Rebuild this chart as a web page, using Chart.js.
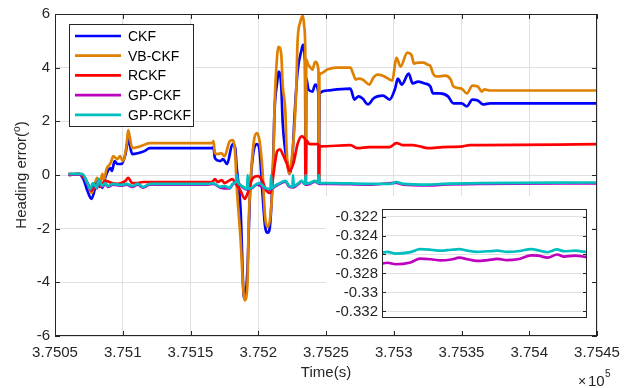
<!DOCTYPE html>
<html>
<head>
<meta charset="utf-8">
<script src="https://cdn.jsdelivr.net/npm/chart.js@4.4.1/dist/chart.umd.min.js"></script>
<style>
  html, body { margin: 0; padding: 0; background: #fff; }
  #wrap { position: relative; width: 642px; height: 388px; }
  #main { position: absolute; left: 0; top: 0; }
  #inset { position: absolute; left: 326px; top: 196px; }
</style>
</head>
<body>
<div id="wrap">
  <canvas id="main" width="642" height="388"></canvas>
  <canvas id="inset" width="266" height="135"></canvas>
</div>
<script>
// values (time in s, heading error in degrees)
const ckfTime = [375060, 375067, 375071, 375074, 375077, 375080, 375082, 375085, 375087, 375089, 375091, 375092, 375094, 375096, 375099, 375102, 375104, 375107, 375111, 375116, 375120, 375166, 375167, 375168, 375172, 375174, 375177, 375181, 375183, 375184, 375187, 375189, 375190, 375192, 375194, 375196, 375199, 375201, 375203, 375205, 375207, 375209, 375211, 375212, 375214, 375215, 375217, 375218, 375220, 375222, 375223, 375225, 375227, 375229, 375232, 375233, 375234.5, 375235, 375235.5, 375237, 375240, 375242, 375244.4, 375244.8, 375245.2, 375251, 375258, 375268, 375271, 375274, 375277, 375281, 375285, 375288, 375292, 375297, 375301, 375303, 375306, 375311, 375314, 375318, 375323, 375327, 375329, 375334, 375340, 375344, 375350, 375354, 375358, 375362, 375366, 375371, 375450];
const ckfValue = [0.00, 0.04, -0.15, -0.60, -0.89, -0.41, -0.15, -0.48, -0.11, 0.15, 0.26, 0.15, 0.52, 0.41, 0.41, 0.78, 1.33, 0.78, 0.81, 0.89, 1.00, 1.00, 1.04, 0.63, 0.52, 0.59, 0.41, 1.15, 1.00, 0.33, -1.33, -4.30, -4.60, -3.56, -0.59, 0.70, 1.15, 0.89, -0.59, -1.89, -2.15, -1.70, 0.52, 2.37, 3.48, 3.85, 3.30, 2.00, 0.89, 0.33, 0.04, 0.52, 2.37, 3.85, 4.67, 4.85, 4.20, -0.30, 3.60, 3.19, 3.11, 3.37, 3.04, -0.30, 3.04, 3.15, 3.19, 3.22, 2.81, 2.93, 2.85, 2.63, 2.85, 2.93, 2.96, 2.81, 3.22, 3.59, 3.37, 3.78, 3.41, 3.48, 3.41, 3.30, 3.04, 3.04, 2.93, 2.67, 2.67, 2.56, 2.81, 2.78, 2.63, 2.67, 2.67];

const vbTime = [375060, 375070, 375074, 375077, 375079, 375081, 375083, 375085, 375086, 375088, 375091, 375093, 375096, 375098, 375100, 375103, 375104, 375107, 375111, 375115, 375120, 375166, 375167, 375168, 375170, 375173, 375175, 375179, 375181, 375183, 375184, 375187, 375189, 375190, 375192, 375193, 375195, 375197, 375199, 375201, 375203, 375205, 375207, 375209, 375211, 375212, 375214, 375215, 375217, 375218, 375220, 375221, 375223, 375224, 375226, 375228, 375229, 375231, 375233, 375234, 375234.7, 375235, 375235.5, 375237, 375238, 375240, 375242, 375244.4, 375244.8, 375245.2, 375246, 375251, 375258, 375268, 375270, 375272, 375274, 375277, 375282, 375285, 375288, 375292, 375299, 375301, 375302, 375305, 375310, 375313, 375315, 375318, 375322, 375325, 375327, 375329, 375332, 375338, 375342, 375344, 375350, 375354, 375358, 375362, 375365, 375367, 375371, 375450];
const vbValue = [0.04, 0.00, -0.33, -0.67, -0.41, -0.11, -0.33, 0.04, -0.19, 0.22, 0.44, 0.70, 0.59, 0.70, 0.52, 1.19, 1.67, 1.00, 1.04, 1.11, 1.19, 1.19, 1.26, 0.81, 0.78, 0.81, 0.70, 1.26, 1.30, 0.78, -0.33, -2.44, -4.30, -4.67, -4.10, -1.70, 0.26, 1.33, 1.56, 1.26, 0.26, -1.52, -1.93, -1.52, 0.15, 2.48, 4.48, 4.78, 4.48, 3.37, 2.37, 0.89, 0.04, 0.33, 1.26, 3.11, 4.96, 5.70, 5.93, 5.50, 4.60, -0.30, 4.30, 4.10, 4.04, 3.93, 4.22, 3.93, -0.30, 3.80, 3.78, 3.93, 4.00, 4.00, 3.78, 3.56, 3.59, 3.56, 3.37, 3.63, 3.74, 3.70, 3.52, 4.15, 4.37, 4.04, 4.56, 4.48, 4.15, 4.19, 4.19, 4.11, 4.07, 3.78, 3.67, 3.70, 3.56, 3.30, 3.22, 3.04, 3.33, 3.30, 3.11, 3.19, 3.15, 3.15];

const rckfTime = [375060, 375068, 375074, 375077, 375080, 375083, 375087, 375092, 375096, 375099, 375102, 375104, 375107, 375111, 375115, 375120, 375166, 375168, 375170, 375173, 375175, 375181, 375183, 375187, 375190, 375192, 375196, 375200, 375203, 375206, 375209, 375211, 375214, 375216, 375218, 375221, 375223, 375226, 375229, 375232, 375234.5, 375235, 375235.5, 375238, 375243, 375244.4, 375244.8, 375245.2, 375246, 375268, 375273, 375282, 375297, 375302, 375307, 375314, 375319, 375325, 375336, 375351, 375356, 375364, 375450];
const rckfValue = [0.00, 0.04, -0.30, -0.59, -0.33, -0.44, -0.22, -0.30, -0.33, -0.30, -0.22, -0.11, -0.30, -0.30, -0.26, -0.26, -0.26, -0.15, -0.26, -0.19, -0.30, -0.15, -0.30, -0.59, -0.89, -0.70, -0.11, -0.04, -0.22, -0.59, -0.67, -0.04, 0.89, 0.96, 0.78, 0.44, 0.15, 0.44, 1.15, 1.44, 1.33, -0.30, 1.28, 1.15, 1.15, 1.15, -0.30, 1.10, 1.07, 1.11, 1.00, 1.04, 1.04, 1.19, 1.11, 1.11, 1.07, 1.00, 1.04, 1.07, 1.11, 1.11, 1.15];

const gpckfTime = [375060, 375070, 375074, 375076, 375078, 375081, 375082, 375085, 375087, 375089, 375093, 375099, 375103, 375107, 375111, 375115, 375120, 375163, 375167, 375172, 375179, 375181, 375184, 375188, 375192, 375195, 375199, 375205, 375209, 375212, 375216, 375220, 375223, 375226, 375229, 375232, 375235, 375238, 375242, 375245, 375253, 375282, 375302, 375307, 375325, 375336, 375364, 375450];
const gpckfValue = [0.02, 0.02, -0.32, -0.55, -0.33, -0.50, -0.18, -0.44, -0.33, -0.44, -0.36, -0.40, -0.36, -0.44, -0.36, -0.47, -0.36, -0.36, -0.33, -0.47, -0.50, -0.36, -0.25, -0.44, -0.55, -0.50, -0.36, -0.50, -0.55, -0.44, -0.33, -0.25, -0.44, -0.46, -0.36, -0.25, -0.36, -0.33, -0.25, -0.33, -0.33, -0.36, -0.29, -0.36, -0.39, -0.36, -0.33, -0.31];

const gprckfTime = [375060, 375070, 375074, 375076, 375078, 375081, 375082, 375085, 375087, 375089, 375093, 375099, 375103, 375107, 375111, 375115, 375120, 375163, 375167, 375168, 375172, 375175, 375179, 375181, 375183.8, 375184.3, 375184.8, 375188, 375191.7, 375192.2, 375192.7, 375195, 375199, 375201, 375205, 375209, 375209.5, 375210, 375212, 375216, 375220, 375223, 375225.2, 375225.7, 375226.2, 375229, 375232, 375234.5, 375235, 375235.5, 375238, 375242, 375244.3, 375244.8, 375245.3, 375248, 375253, 375282, 375297, 375302, 375307, 375325, 375336, 375364, 375450];
const gprckfValue = [0.04, 0.04, -0.30, -0.52, -0.30, -0.48, -0.15, -0.41, -0.30, -0.41, -0.33, -0.37, -0.33, -0.41, -0.33, -0.44, -0.33, -0.33, -0.30, -0.33, -0.44, -0.41, -0.48, -0.33, -0.22, 0.00, -0.24, -0.41, -0.52, 0.00, -0.52, -0.48, -0.33, -0.30, -0.48, -0.52, 0.00, -0.50, -0.41, -0.30, -0.22, -0.41, -0.44, 0.00, -0.42, -0.33, -0.22, -0.33, 0.00, -0.32, -0.30, -0.22, -0.30, 0.00, -0.30, -0.30, -0.30, -0.33, -0.33, -0.26, -0.33, -0.36, -0.33, -0.30, -0.28];

// zoomed inset (end of the run)
const insetTime = [375291, 375295, 375301, 375312, 375319, 375327, 375334, 375342, 375348, 375354, 375361, 375369, 375376, 375383, 375391, 375401, 375406, 375413, 375420, 375425, 375433, 375442];
const insetGpckf = [-0.32696, -0.32687, -0.32703, -0.32684, -0.32644, -0.32650, -0.32662, -0.32653, -0.32634, -0.32650, -0.32668, -0.32659, -0.32647, -0.32659, -0.32650, -0.32609, -0.32612, -0.32634, -0.32600, -0.32622, -0.32612, -0.32628];
const insetGprckf = [-0.32581, -0.32572, -0.32591, -0.32575, -0.32544, -0.32550, -0.32560, -0.32550, -0.32544, -0.32560, -0.32572, -0.32566, -0.32560, -0.32572, -0.32566, -0.32544, -0.32556, -0.32575, -0.32547, -0.32566, -0.32560, -0.32575];

const seriesNames = ['CKF', 'VB-CKF', 'RCKF', 'GP-CKF', 'GP-RCKF'];
const seriesColors = ['#0000ff', '#df8000', '#ff0000', '#bf00bf', '#00bfbf'];
const yTicksMain = [-6, -4, -2, 0, 2, 4, 6];
const yTicksInset = [-0.332, -0.33, -0.328, -0.326, -0.324, -0.322];

const FONT = '"Liberation Sans", Arial, Helvetica, sans-serif';
const AXIS = '#262626';
const GRID = '#e0e0e0';

const pts = (xs, ys) => xs.map((x, i) => ({ x, y: ys[i] }));

function mkSet(i, xs, ys) {
    return {
        label: seriesNames[i], data: pts(xs, ys),
        borderColor: seriesColors[i], backgroundColor: seriesColors[i],
        borderWidth: 2.7, pointRadius: 0, cubicInterpolationMode: 'monotone', fill: false,
        borderJoinStyle: 'round', order: 5 - i
    };
}

// box, inward ticks, legend and axis texts, MATLAB style
const frameMain = {
    id: 'frameMain',
    afterDraw(chart) {
        const { ctx, chartArea: a } = chart;
        const xs = chart.scales.x, ys = chart.scales.y;
        ctx.save();
        ctx.strokeStyle = AXIS;
        ctx.lineWidth = 1;
        ctx.strokeRect(a.left + 0.5, a.top + 0.5, a.right - a.left - 1, a.bottom - a.top - 1);
        ctx.beginPath();
        xs.ticks.forEach(t => {
            const px = Math.round(xs.getPixelForValue(t.value)) + 0.5;
            ctx.moveTo(px, a.bottom); ctx.lineTo(px, a.bottom - 5);
            ctx.moveTo(px, a.top); ctx.lineTo(px, a.top + 5);
        });
        ys.ticks.forEach(t => {
            const py = Math.round(ys.getPixelForValue(t.value)) + 0.5;
            ctx.moveTo(a.left, py); ctx.lineTo(a.left + 5, py);
            ctx.moveTo(a.right, py); ctx.lineTo(a.right - 5, py);
        });
        ctx.stroke();

        // legend
        const lx = 69, ly = 24, lw = 124, lh = 102;
        ctx.fillStyle = '#fff';
        ctx.fillRect(lx, ly, lw, lh);
        ctx.strokeStyle = AXIS;
        ctx.strokeRect(lx + 0.5, ly + 0.5, lw, lh);
        ctx.font = '14px ' + FONT;
        ctx.textBaseline = 'middle';
        ctx.textAlign = 'left';
        seriesNames.forEach((n, i) => {
            const y = 36 + i * 19.7;
            ctx.strokeStyle = seriesColors[i];
            ctx.lineWidth = 2.7;
            ctx.beginPath(); ctx.moveTo(75, y); ctx.lineTo(121, y); ctx.stroke();
            ctx.fillStyle = '#000';
            ctx.fillText(n, 128, y + 1);
        });

        // axis titles
        ctx.fillStyle = '#262626';
        ctx.font = '15px ' + FONT;
        ctx.textAlign = 'center';
        ctx.fillText('Time(s)', (a.left + a.right) / 2, 373);

        ctx.textAlign = 'left';
        ctx.textBaseline = 'alphabetic';
        ctx.font = '14px ' + FONT;
        ctx.fillText('\u00d7', 578, 386);
        ctx.font = '15px ' + FONT;
        ctx.fillText('10', 588, 386);
        ctx.font = '10px ' + FONT;
        ctx.fillText('5', 605, 377);

        ctx.translate(22, (a.top + a.bottom) / 2);
        ctx.rotate(-Math.PI / 2);
        ctx.textBaseline = 'middle';
        const p1 = 'Heading error(', p2 = 'o', p3 = ')';
        ctx.font = '15px ' + FONT;
        const w1 = ctx.measureText(p1).width, w3 = ctx.measureText(p3).width;
        ctx.font = '10px ' + FONT;
        const w2 = ctx.measureText(p2).width;
        let x = -(w1 + w2 + w3) / 2;
        ctx.font = '15px ' + FONT;
        ctx.fillText(p1, x, 0); x += w1;
        ctx.font = '10px ' + FONT;
        ctx.fillText(p2, x, -5); x += w2;
        ctx.font = '15px ' + FONT;
        ctx.fillText(p3, x, 0);
        ctx.restore();
    }
};

const frameInset = {
    id: 'frameInset',
    beforeDraw(chart) {
        const { ctx } = chart;
        ctx.save();
        ctx.fillStyle = '#fff';
        ctx.fillRect(0, 0, chart.width, chart.height);
        ctx.restore();
    },
    afterDraw(chart) {
        const { ctx, chartArea: a } = chart;
        const ys = chart.scales.y;
        ctx.save();
        ctx.strokeStyle = AXIS;
        ctx.lineWidth = 1;
        ctx.strokeRect(a.left + 0.5, a.top + 0.5, a.right - a.left - 1, a.bottom - a.top - 1);
        ctx.beginPath();
        ys.ticks.forEach(t => {
            const py = Math.round(ys.getPixelForValue(t.value)) + 0.5;
            ctx.moveTo(a.left, py); ctx.lineTo(a.left + 4, py);
            ctx.moveTo(a.right, py); ctx.lineTo(a.right - 4, py);
        });
        ctx.stroke();
        ctx.restore();
    }
};

new Chart(document.getElementById('main'), {
    type: 'line',
    data: {
        datasets: [
            mkSet(0, ckfTime, ckfValue),
            mkSet(1, vbTime, vbValue),
            mkSet(2, rckfTime, rckfValue),
            mkSet(3, gpckfTime, gpckfValue),
            mkSet(4, gprckfTime, gprckfValue)
        ]
    },
    options: {
        responsive: false,
        animation: false,
        events: [],
        layout: { padding: { left: 0, right: 45, top: 12, bottom: 0 } },
        plugins: { legend: { display: false }, tooltip: { enabled: false } },
        scales: {
            x: {
                type: 'linear', min: 375050, max: 375450,
                afterFit: s => { s.height = 52; },
                grid: { color: GRID, drawTicks: false, tickLength: 0 },
                border: { display: false },
                ticks: {
                    stepSize: 50, padding: 8, maxRotation: 0, autoSkip: false,
                    color: '#262626', font: { family: FONT, size: 15 },
                    callback: v => String(+(v / 1e5).toFixed(6))
                }
            },
            y: {
                min: -6, max: 6,
                afterFit: s => { s.width = 55; },
                afterBuildTicks: s => { s.ticks = yTicksMain.map(v => ({ value: v })); },
                grid: { color: GRID, drawTicks: false, tickLength: 0 },
                border: { display: false },
                ticks: { padding: 5, color: '#262626', font: { family: FONT, size: 15 } }
            }
        }
    },
    plugins: [frameMain]
});

new Chart(document.getElementById('inset'), {
    type: 'line',
    data: {
        datasets: [
            { data: pts(insetTime, insetGpckf), borderColor: seriesColors[3], borderWidth: 2.7, pointRadius: 0, cubicInterpolationMode: 'monotone', order: 2 },
            { data: pts(insetTime, insetGprckf), borderColor: seriesColors[4], borderWidth: 2.7, pointRadius: 0, cubicInterpolationMode: 'monotone', order: 1 }
        ]
    },
    options: {
        responsive: false,
        animation: false,
        events: [],
        layout: { padding: { left: 0, right: 5, top: 5, bottom: 4 } },
        plugins: { legend: { display: false }, tooltip: { enabled: false } },
        scales: {
            x: { type: 'linear', min: 375291, max: 375442, display: false },
            y: {
                min: -0.3327, max: -0.3212,
                afterFit: s => { s.width = 56; },
                afterBuildTicks: s => { s.ticks = yTicksInset.map(v => ({ value: v })); },
                grid: { color: GRID, drawTicks: false, tickLength: 0 },
                border: { display: false },
                ticks: {
                    padding: 4, color: '#262626', font: { family: FONT, size: 15 },
                    callback: v => String(+v.toFixed(3))
                }
            }
        }
    },
    plugins: [frameInset]
});
</script>
</body>
</html>
